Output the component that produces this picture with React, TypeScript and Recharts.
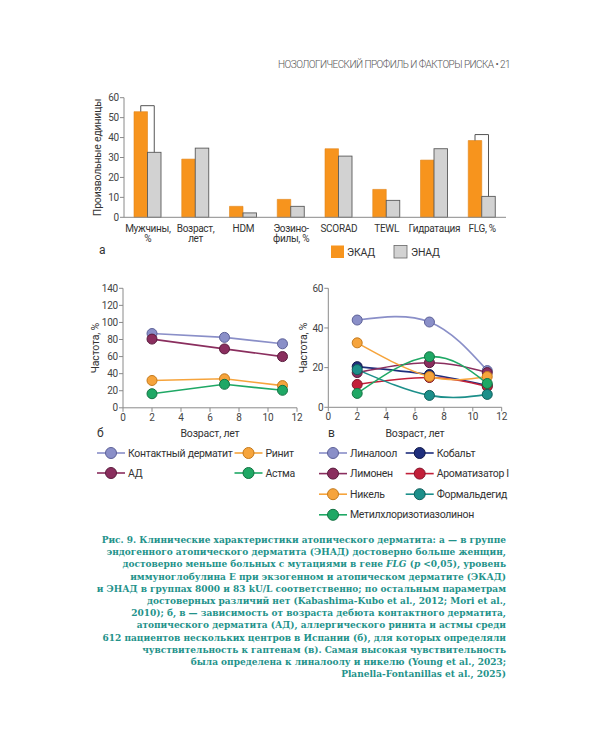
import { Bar, BarChart, Line, LineChart, XAxis, YAxis } from 'recharts';

// а — ЭКАД vs ЭНАД
const categories = ['Мужчины,\n%', 'Возраст,\nлет', 'HDM', 'Эозино-\nфилы, %', 'SCORAD', 'TEWL', 'Гидратация', 'FLG, %'];
const ekadValues = [53, 29.2, 5.5, 9, 34.4, 14, 28.7, 38.5];
const enadValues = [32.6, 34.7, 2.2, 5.5, 30.7, 8.5, 34.4, 10.5];
const significance = [56, null, null, null, null, null, null, 41.5];

// б — возраст дебюта
const ages = [2, 7, 11];
const contactDermatitis = [87, 82.5, 75];
const atopicDermatitis = [80.5, 69, 60];
const rhinitis = [32, 34, 26];
const asthma = [16.5, 27.5, 20.5];

// в — гаптены
const linalool = [44, 43, 18.5];
const cobalt = [20.5, 16.5, 11];
const limonene = [17.5, 22.5, 17.5];
const fragrance = [11.5, 15, 10.5];
const nickel = [32.5, 15.5, 15.5];
const formaldehyde = [19, 6, 6.5];
const methylchloro = [7, 25.5, 12];

const barData = categories.map((name, i) => ({
  name,
  ekad: ekadValues[i],
  enad: enadValues[i],
  bracket: significance[i],
}));

const ageData = ages.map((age, i) => ({
  age,
  contact: contactDermatitis[i],
  ad: atopicDermatitis[i],
  rhinitis: rhinitis[i],
  asthma: asthma[i],
}));

const haptenData = ages.map((age, i) => ({
  age,
  linalool: linalool[i],
  cobalt: cobalt[i],
  limonene: limonene[i],
  fragrance: fragrance[i],
  nickel: nickel[i],
  formaldehyde: formaldehyde[i],
  methylchloro: methylchloro[i],
}));

const ORANGE = '#f7941d';
const GREY = '#d2d2d2';
const TEAL = '#23928a';
const AXIS = '#8a8a8a';
const TICK = { fontSize: 10, fill: '#444', letterSpacing: -0.2 };

const C = {
  lavender: { fill: '#8a8fc8', stroke: '#5d6198' },
  plum: { fill: '#8a2e5e', stroke: '#5a1c3d' },
  orange: { fill: '#f6a43c', stroke: '#c47a1c' },
  green: { fill: '#1fa865', stroke: '#137242' },
  navy: { fill: '#1f2e7c', stroke: '#111a4a' },
  red: { fill: '#c21f39', stroke: '#84132a' },
  teal: { fill: '#1c8f8a', stroke: '#0f5e5a' },
};

const ageSeries = [
  { key: 'contact', name: 'Контактный дерматит', c: C.lavender, col: 0, row: 0 },
  { key: 'rhinitis', name: 'Ринит', c: C.orange, col: 1, row: 0 },
  { key: 'ad', name: 'АД', c: C.plum, col: 0, row: 1 },
  { key: 'asthma', name: 'Астма', c: C.green, col: 1, row: 1 },
];

const haptenSeries = [
  { key: 'linalool', name: 'Линалоол', c: C.lavender, col: 0, row: 0 },
  { key: 'cobalt', name: 'Кобальт', c: C.navy, col: 1, row: 0 },
  { key: 'limonene', name: 'Лимонен', c: C.plum, col: 0, row: 1 },
  { key: 'fragrance', name: 'Ароматизатор I', c: C.red, col: 1, row: 1 },
  { key: 'nickel', name: 'Никель', c: C.orange, col: 0, row: 2 },
  { key: 'formaldehyde', name: 'Формальдегид', c: C.teal, col: 1, row: 2 },
  { key: 'methylchloro', name: 'Метилхлоризотиазолинон', c: C.green, col: 0, row: 3 },
];

const captionLines = [
  <>Рис. 9. Клинические характеристики атопического дерматита: а — в группе</>,
  <>эндогенного атопического дерматита (ЭНАД) достоверно больше женщин,</>,
  <>достоверно меньше больных с мутациями в гене <i>FLG</i> (<i>p</i> &lt;0,05), уровень</>,
  <>иммуноглобулина Е при экзогенном и атопическом дерматите (ЭКАД)</>,
  <>и ЭНАД в группах 8000 и 83 kU/L соответственно; по остальным параметрам</>,
  <>достоверных различий нет (Kabashima-Kubo et al., 2012; Mori et al.,</>,
  <>2010); б, в — зависимость от возраста дебюта контактного дерматита,</>,
  <>атопического дерматита (АД), аллергического ринита и астмы среди</>,
  <>612 пациентов нескольких центров в Испании (б), для которых определяли</>,
  <>чувствительность к гаптенам (в). Самая высокая чувствительность</>,
  <>была определена к линалоолу и никелю (Young et al., 2023;</>,
  <>Planella-Fontanillas et al., 2025)</>,
];

function CategoryTick(props: any) {
  const { x, y, payload } = props;
  const lines = String(payload.value).split('\n');
  return (
    <text x={x} y={y + 14.5} textAnchor="middle" fontSize={10} letterSpacing={-0.3} fill="#333">
      {lines.map((l, i) => (
        <tspan key={i} x={x} dy={i === 0 ? 0 : 10.5}>
          {l}
        </tspan>
      ))}
    </text>
  );
}

function EnadShape(props: any) {
  const { x, y, width, height, payload } = props;
  const rect = <rect x={x} y={y} width={width} height={height} fill={GREY} stroke="#5a5a5a" strokeWidth={0.9} />;
  if (payload.bracket == null) return rect;
  const perUnit = height / payload.enad;
  const base = y + height;
  const top = base - payload.bracket * perUnit;
  const leftTop = base - payload.ekad * perUnit;
  const lx = x - width / 2;
  const rx = x + width / 2;
  return (
    <g>
      {rect}
      <path d={`M${lx},${leftTop}V${top}H${rx}V${y}`} fill="none" stroke="#555" strokeWidth={1} />
    </g>
  );
}

function yLabel(text: string, dx: number) {
  return {
    content: (p: any) => {
      const vb = p.viewBox || {};
      const cx = vb.x + dx;
      const cy = vb.y + vb.height / 2;
      return (
        <text x={cx} y={cy} transform={`rotate(-90 ${cx} ${cy})`} textAnchor="middle" dominantBaseline="central" fontSize={10.5} letterSpacing={-0.2} fill="#333">
          {text}
        </text>
      );
    },
  };
}

function xLabel(text: string) {
  return {
    content: (p: any) => {
      const vb = p.viewBox || {};
      return (
        <text x={vb.x + vb.width / 2} y={vb.y + 29.5} textAnchor="middle" fontSize={10.5} letterSpacing={-0.2} fill="#333">
          {text}
        </text>
      );
    },
  };
}

function SeriesLegend({ items, left, top, colX, rowY, width }: any) {
  return (
    <svg style={{ position: 'absolute', left, top }} width={width} height={rowY * 4 + 10}>
      {items.map((s: any) => {
        const cx = 14 + s.col * colX;
        const cy = 8 + s.row * rowY;
        return (
          <g key={s.key}>
            <line x1={cx - 14} x2={cx + 14} y1={cy} y2={cy} stroke={s.c.fill} strokeWidth={1.6} />
            <circle cx={cx} cy={cy} r={5.5} fill={s.c.fill} stroke={s.c.stroke} strokeWidth={1} />
            <text x={cx + 17} y={cy} dominantBaseline="central" fontSize={10.5} letterSpacing={-0.3} fill="#333">
              {s.name}
            </text>
          </g>
        );
      })}
    </svg>
  );
}

export default function App() {
  return (
    <div
      style={{
        position: 'absolute',
        left: 0,
        top: 0,
        width: 600,
        height: 750,
        background: '#fff',
        fontFamily: 'Roboto, "Noto Sans", sans-serif',
      }}
    >
      <div
        style={{
          position: 'absolute',
          right: 90,
          top: 59,
          fontSize: 10,
          color: '#555',
          letterSpacing: -0.55,
          fontWeight: 300,
          whiteSpace: 'nowrap',
        }}
      >
        НОЗОЛОГИЧЕСКИЙ ПРОФИЛЬ И ФАКТОРЫ РИСКА • 21
      </div>

      {/* а */}
      <div style={{ position: 'absolute', left: 80, top: 90 }}>
        <BarChart width={430} height={180} data={barData} margin={{ top: 7.7, right: 4, bottom: 12.7, left: 0 }} barGap={0} barSize={13.5}>
          <XAxis dataKey="name" interval={0} tickLine={false} tickSize={0} tickMargin={0} height={40} stroke={AXIS} tick={<CategoryTick />} />
          <YAxis
            width={44}
            domain={[0, 60]}
            ticks={[0, 10, 20, 30, 40, 50, 60]}
            stroke={AXIS}
            tickSize={4}
            tickMargin={1}
            tick={TICK}
            label={yLabel('Произвольные единицы', 17)}
          />
          <Bar dataKey="ekad" name="ЭКАД" fill={ORANGE} stroke="#e0841a" strokeWidth={0.6} isAnimationActive={false} />
          <Bar dataKey="enad" name="ЭНАД" fill={GREY} shape={<EnadShape />} isAnimationActive={false} />
        </BarChart>
      </div>
      <div style={{ position: 'absolute', left: 99, top: 243, fontSize: 12, color: '#333' }}>а</div>
      <svg style={{ position: 'absolute', left: 325, top: 240 }} width={120} height={22}>
        <rect x={6} y={5.5} width={13} height={12.5} fill={ORANGE} />
        <text x={22} y={12} dominantBaseline="central" fontSize={10.5} letterSpacing={-0.2} fill="#333">ЭКАД</text>
        <rect x={69} y={5.5} width={13} height={12.5} fill={GREY} stroke="#666" strokeWidth={0.8} />
        <text x={86} y={12} dominantBaseline="central" fontSize={10.5} letterSpacing={-0.2} fill="#333">ЭНАД</text>
      </svg>

      {/* б */}
      <div style={{ position: 'absolute', left: 80, top: 280 }}>
        <LineChart width={230} height={160} data={ageData} margin={{ top: 8.3, right: 13, bottom: 0, left: 0 }}>
          <XAxis
            dataKey="age"
            type="number"
            domain={[0, 12]}
            ticks={[0, 2, 4, 6, 8, 10, 12]}
            stroke={AXIS}
            tickSize={4}
            tick={TICK}
            height={32.2}
            label={xLabel('Возраст, лет')}
          />
          <YAxis
            width={43}
            domain={[0, 140]}
            ticks={[0, 20, 40, 60, 80, 100, 120, 140]}
            stroke={AXIS}
            tickSize={4}
            tickMargin={1}
            tick={TICK}
            label={yLabel('Частота, %', 16)}
          />
          {ageSeries.map((s) => (
            <Line
              key={s.key}
              type="linear"
              dataKey={s.key}
              name={s.name}
              stroke={s.c.fill}
              strokeWidth={1.6}
              dot={{ r: 5, fill: s.c.fill, stroke: s.c.stroke, strokeWidth: 1 }}
              isAnimationActive={false}
            />
          ))}
        </LineChart>
      </div>
      <div style={{ position: 'absolute', left: 97, top: 426, fontSize: 12, color: '#333' }}>б</div>
      <SeriesLegend items={ageSeries} left={97} top={445} colX={137.5} rowY={20} width={210} />

      {/* в */}
      <div style={{ position: 'absolute', left: 285, top: 280 }}>
        <LineChart width={230} height={160} data={haptenData} margin={{ top: 8.3, right: 13.3, bottom: 0, left: 0 }}>
          <XAxis
            dataKey="age"
            type="number"
            domain={[0, 12]}
            ticks={[0, 2, 4, 6, 8, 10, 12]}
            stroke={AXIS}
            tickSize={4}
            tick={TICK}
            height={32.7}
            label={xLabel('Возраст, лет')}
          />
          <YAxis
            width={43.3}
            domain={[0, 60]}
            ticks={[0, 20, 40, 60]}
            stroke={AXIS}
            tickSize={4}
            tickMargin={1}
            tick={TICK}
            label={yLabel('Частота, %', 19)}
          />
          {haptenSeries.map((s) => (
            <Line
              key={s.key}
              type="natural"
              dataKey={s.key}
              name={s.name}
              stroke={s.c.fill}
              strokeWidth={1.6}
              dot={{ r: 5, fill: s.c.fill, stroke: s.c.stroke, strokeWidth: 1 }}
              isAnimationActive={false}
            />
          ))}
        </LineChart>
      </div>
      <div style={{ position: 'absolute', left: 328, top: 426, fontSize: 12, color: '#333' }}>в</div>
      <SeriesLegend items={haptenSeries} left={319} top={445} colX={86.7} rowY={20.6} width={220} />

      {/* подпись */}
      <div
        style={{
          position: 'absolute',
          right: 94,
          top: 534,
          textAlign: 'right',
          fontFamily: '"DejaVu Serif Condensed", "DejaVu Serif", serif',
          fontWeight: 700,
          fontSize: 10,
          lineHeight: '12.2px',
          color: TEAL,
          whiteSpace: 'nowrap',
        }}
      >
        {captionLines.map((l, i) => (
          <div key={i}>{l}</div>
        ))}
      </div>
    </div>
  );
}
